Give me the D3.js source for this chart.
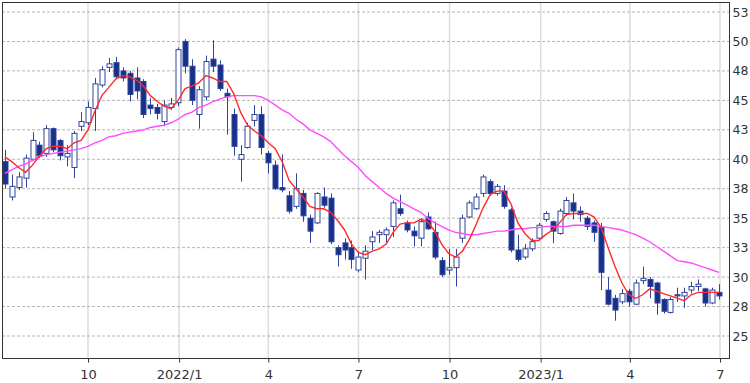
<!DOCTYPE html>
<html><head><meta charset="utf-8">
<script src="https://cdn.jsdelivr.net/npm/d3@7"></script>
<style>body{margin:0;background:#fff} svg{display:block}</style>
</head><body><svg id="c" width="750" height="383"></svg>
<script>
// Weekly OHLC, first week ending Fri 2021-07-09
const firstWeek = new Date(Date.UTC(2021, 6, 9));
const open  = [39.8,36.8,37.6,38.4,40.0,41.2,40.5,42.6,41.6,40.2,39.3,42.8,43.1,44.3,46.3,47.8,48.2,47.5,47.3,46.9,46.6,44.6,44.4,43.2,44.4,44.8,50.0,47.9,43.8,45.3,48.5,48.0,45.6,43.8,40.0,41.0,43.3,43.8,40.5,39.5,37.6,36.9,36.0,37.1,35.0,34.6,36.8,36.7,32.5,32.9,32.5,30.6,31.6,33.0,33.6,33.6,34.3,35.8,34.6,33.9,33.3,35.1,33.8,31.4,30.6,30.8,33.3,35.1,35.8,37.1,38.1,37.1,37.3,35.7,32.3,31.7,32.4,33.3,34.9,34.7,33.7,35.4,36.3,35.6,35.0,34.6,34.2,28.9,28.2,27.9,28.8,27.7,29.7,29.8,29.5,28.1,27.0,28.5,28.4,28.9,29.2,29.0,27.8,28.7];
const high  = [40.8,38.7,38.9,40.4,42.3,41.5,42.9,42.7,41.7,41.2,42.4,44.0,44.9,46.9,47.9,48.6,48.7,47.8,47.5,47.8,46.8,45.2,44.7,45.0,45.2,49.5,50.2,48.5,46.2,48.8,50.1,48.4,46.0,44.3,41.2,43.1,44.6,44.5,40.7,39.9,40.4,37.3,38.8,37.4,35.3,37.2,37.6,37.1,32.7,33.3,33.1,32.2,32.7,33.9,34.0,34.2,36.5,37.0,34.8,34.3,35.0,35.5,34.7,31.7,32.4,32.4,35.3,36.5,37.1,38.7,38.3,37.9,37.8,35.9,33.6,32.8,33.3,34.6,35.6,34.8,35.8,36.8,37.1,36.0,35.2,34.8,34.6,30.0,28.5,29.0,29.0,29.8,30.9,30.0,29.6,28.2,28.3,29.1,29.1,29.6,29.8,29.1,29.1,29.4];
const low   = [37.5,36.5,37.4,37.6,39.9,40.1,40.2,40.6,39.9,39.4,38.4,42.4,42.9,42.4,46.1,47.4,46.9,46.6,44.9,45.1,43.5,43.8,43.4,42.8,44.2,44.5,47.3,44.6,42.6,45.0,47.4,45.8,42.1,40.3,38.1,40.9,42.8,40.4,38.8,37.4,37.2,35.4,35.8,34.7,32.9,34.5,35.9,32.8,30.9,31.5,30.7,30.4,29.8,32.3,32.9,32.9,33.4,35.2,33.8,32.6,32.6,34.0,31.5,30.0,30.2,29.2,32.9,35.0,35.7,36.8,36.9,36.9,35.8,32.1,31.3,31.5,32.2,33.1,34.7,32.9,33.6,35.2,34.9,34.7,34.0,33.0,28.9,27.6,26.3,27.7,27.5,27.6,29.4,28.2,26.8,26.9,26.9,27.9,27.4,28.6,28.8,27.5,27.7,28.1];
const close = [37.9,37.7,38.5,40.1,41.6,40.3,42.6,40.8,40.3,40.5,42.2,43.2,44.4,46.4,47.6,48.1,47.0,46.9,45.5,45.8,43.8,44.3,43.9,44.6,44.7,49.3,47.9,45.0,45.9,48.3,47.9,46.0,45.3,41.1,40.4,42.8,43.8,41.0,39.7,37.5,37.4,35.6,37.5,35.2,33.9,37.1,36.1,33.0,31.9,32.3,31.5,31.7,32.2,33.4,33.8,34.0,36.3,35.4,34.0,33.5,34.7,34.1,31.7,30.2,30.8,31.7,35.0,36.3,36.8,38.5,37.1,37.7,36.0,32.3,31.5,32.4,33.0,34.4,35.4,33.9,35.6,36.5,35.6,35.3,34.3,33.8,30.4,27.7,27.2,28.6,27.9,29.5,29.9,29.2,27.8,27.1,28.1,28.4,28.7,29.2,29.4,27.8,28.9,28.4];
// Moving averages (short = red, long = magenta)
const maShort = [40.2,39.8,39.3,38.9,39.5,40.3,40.9,41.1,41.1,40.9,41.4,41.6,42.5,44.1,45.4,46.1,46.8,47.1,47.0,46.7,46.2,45.4,44.9,44.5,44.3,45.0,46.0,46.2,46.5,47.1,46.9,46.6,46.6,45.6,44.0,42.9,42.4,42.0,41.4,40.9,39.8,38.2,37.5,36.8,36.0,35.8,35.8,35.5,34.8,34.0,32.8,32.1,31.9,32.2,32.4,32.8,33.8,34.5,34.6,34.6,34.9,34.7,33.9,32.8,32.0,31.7,32.2,33.2,34.5,35.9,37.0,37.3,37.3,36.2,34.6,33.7,33.1,33.1,33.6,34.0,34.6,35.3,35.4,35.4,35.4,35.1,34.2,32.5,30.9,29.5,28.5,28.2,28.5,29.0,28.8,28.6,28.4,28.2,28.0,28.5,28.7,28.7,28.7,28.7];
const maLong  = [38.8,39.1,39.4,39.6,39.9,40.2,40.4,40.5,40.6,40.7,40.8,40.9,41.1,41.4,41.6,41.9,42.0,42.2,42.3,42.4,42.5,42.7,42.8,42.9,43.1,43.4,43.8,44.0,44.4,44.6,44.9,45.1,45.3,45.4,45.4,45.4,45.4,45.3,45.0,44.6,44.2,43.9,43.4,43.0,42.5,42.2,41.9,41.5,40.9,40.3,39.8,39.3,38.6,38.1,37.6,37.1,36.7,36.4,36.1,35.8,35.5,35.0,34.6,34.3,34.0,33.8,33.7,33.6,33.6,33.7,33.8,33.9,33.9,34.0,34.1,34.1,34.2,34.2,34.3,34.3,34.3,34.3,34.4,34.4,34.4,34.4,34.3,34.2,34.1,34.0,33.8,33.6,33.3,33.0,32.6,32.2,31.8,31.4,31.3,31.2,31.0,30.8,30.6,30.4];
// Axis ticks
const xTickDates  = ["2021-10-01","2022-01-01","2022-04-01","2022-07-01","2022-10-01","2023-01-01","2023-04-01","2023-07-01"];
const xTickLabels = ["10","2022/1","4","7","10","2023/1","4","7"];
const yTickValues = [25,27.5,30,32.5,35,37.5,40,42.5,45,47.5,50,52.5];
const yTickLabels = ["25","28","30","33","35","38","40","43","45","48","50","53"];

const L = 2, R = 729, T = 2, B = 358;
const svg = d3.select('#c');
const x = d3.scaleUtc()
  .domain([new Date(Date.UTC(2021,9,1)), new Date(Date.UTC(2023,6,1))])
  .range([88, 720]);
const y = d3.scaleLinear().domain([25, 52.5]).range([336, 12]);

const data = open.map((o, i) => ({
  d: d3.utcWeek.offset(firstWeek, i), o, h: high[i], l: low[i], c: close[i],
  s: maShort[i], m: maLong[i]
}));
const tickDates = xTickDates.map(s => new Date(s + "T00:00:00Z"));

svg.append('defs').append('clipPath').attr('id','clip')
  .append('rect').attr('x', L).attr('y', T).attr('width', R - L).attr('height', B - T);

// grid
const grid = svg.append('g');
grid.selectAll('line.v').data(tickDates).join('line')
  .attr('x1', d => x(d)).attr('x2', d => x(d)).attr('y1', T).attr('y2', B)
  .attr('stroke', '#dcdcdc').attr('stroke-width', 1.5);
grid.selectAll('line.h').data(yTickValues).join('line')
  .attr('x1', L).attr('x2', R).attr('y1', d => y(d)).attr('y2', d => y(d))
  .attr('stroke', '#b4b4b4').attr('stroke-width', 1).attr('stroke-dasharray', '3,2');

const plot = svg.append('g').attr('clip-path', 'url(#clip)');
const candleStroke = '#30449b', candleFill = '#17308a';
const cg = plot.selectAll('g.c').data(data).join('g');
cg.append('line')
  .attr('x1', d => Math.round(x(d.d)) + 0.5).attr('x2', d => Math.round(x(d.d)) + 0.5)
  .attr('y1', d => y(d.h)).attr('y2', d => y(d.l))
  .attr('stroke', candleStroke).attr('stroke-width', 1);
cg.append('rect')
  .attr('x', d => Math.round(x(d.d)) - 2)
  .attr('width', 5)
  .attr('y', d => y(Math.max(d.o, d.c)))
  .attr('height', d => Math.max(1, Math.abs(y(d.o) - y(d.c))))
  .attr('fill', d => d.c < d.o ? candleFill : '#fff')
  .attr('stroke', candleStroke).attr('stroke-width', 1);

const line = key => d3.line().x(d => x(d.d)).y(d => y(d[key]));
plot.append('path').datum(data).attr('d', line('m'))
  .attr('fill', 'none').attr('stroke', '#ff4cff').attr('stroke-width', 1.4);
plot.append('path').datum(data).attr('d', line('s'))
  .attr('fill', 'none').attr('stroke', '#ff2a2a').attr('stroke-width', 1.4);

// frame
svg.append('rect').attr('x', L + 0.5).attr('y', T + 0.5).attr('width', R - L).attr('height', B - T)
  .attr('fill', 'none').attr('stroke', '#333').attr('stroke-width', 1);

// axes
const yAxis = svg.append('g').attr('transform', `translate(${R + 0.5},0)`)
  .call(d3.axisRight(y).tickValues(yTickValues).tickFormat((d, i) => yTickLabels[i]).tickSize(0).tickPadding(3));
yAxis.select('.domain').remove();
yAxis.selectAll('text').attr('font-family', 'DejaVu Sans, Verdana, sans-serif').attr('font-size', 12.5).attr('fill', '#333');

const xAxis = svg.append('g').attr('transform', `translate(0,${B + 0.5})`)
  .call(d3.axisBottom(x).tickValues(tickDates).tickFormat((d, i) => xTickLabels[i]).tickSize(4).tickPadding(7));
xAxis.select('.domain').remove();
xAxis.selectAll('line').attr('stroke', '#333');
xAxis.selectAll('text').attr('font-family', 'DejaVu Sans, Verdana, sans-serif').attr('font-size', 13).attr('fill', '#333');
</script></body></html>
